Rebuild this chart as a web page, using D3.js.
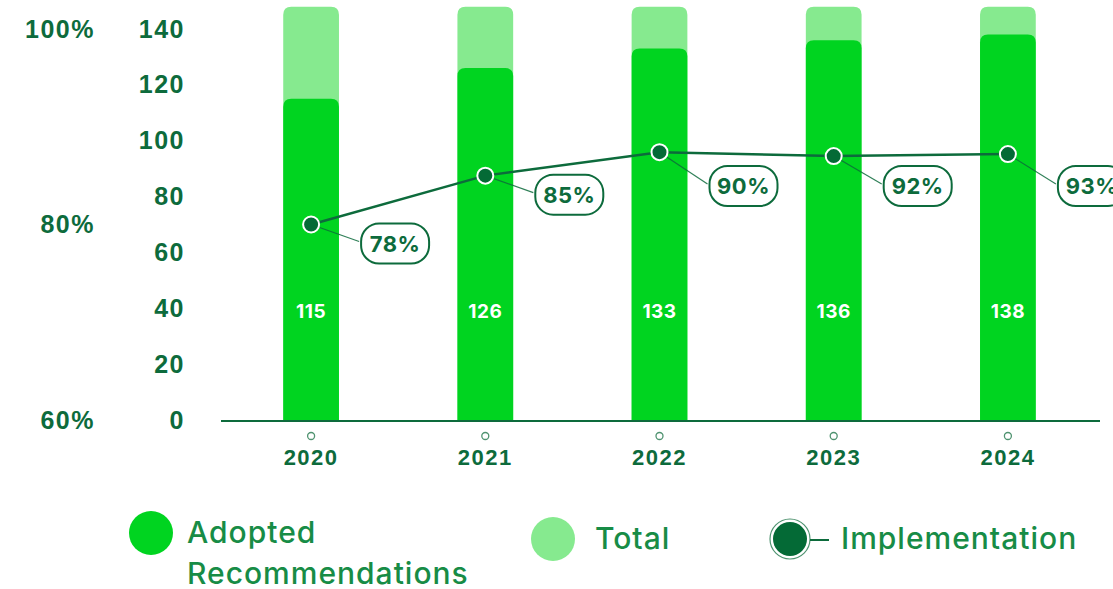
<!DOCTYPE html>
<html lang="en">
<head>
  <meta charset="UTF-8">
  <title>Recommendations chart</title>
  <script src="https://d3js.org/d3.v7.min.js"></script>
  <style>
    body { margin: 0; background: #fff; font-family: Inter, "Noto Sans", sans-serif; }
    .tick text { font-weight: 700; fill: #0d6b3c; }
  </style>
</head>
<body>
  <div id="chart"></div>

  <script>
    // data
    const years = ["2020", "2021", "2022", "2023", "2024"];
    const adopted = [115, 126, 133, 136, 138];
    const total = [148, 148, 148, 148, 148];
    const implementationPos = [80, 85, 87.4, 87, 87.2]; // where the points sit on the % axis
    const implementationLabels = ["78%", "85%", "90%", "92%", "93%"];
    const countTicks = [0, 20, 40, 60, 80, 100, 120, 140];
    const pctTicks = [60, 80, 100];

    const W = 1113, H = 589;
    const dark = "#0d6b3c";
    const bright = "#00d420";
    const light = "#86ea8f";

    const svg = d3.select("#chart").append("svg")
      .attr("width", W)
      .attr("height", H);

    const x = d3.scaleBand()
      .domain(years)
      .range([224, 1095])
      .paddingInner(0.68)
      .paddingOuter(0.34);

    const y = d3.scaleLinear().domain([0, 140]).range([420, 29]);
    const yPct = d3.scaleLinear().domain([60, 100]).range([420, 29]);

    // left axes
    const countAxis = svg.append("g")
      .attr("transform", "translate(185,0)")
      .call(d3.axisLeft(y).tickValues(countTicks).tickSize(0).tickPadding(0));
    countAxis.select(".domain").remove();
    countAxis.selectAll("text").style("font-size", "25px").style("letter-spacing", "1.5px");

    const pctAxis = svg.append("g")
      .attr("transform", "translate(95,0)")
      .call(d3.axisLeft(yPct).tickValues(pctTicks).tickSize(0).tickPadding(0)
        .tickFormat(d => d + "%"));
    pctAxis.select(".domain").remove();
    pctAxis.selectAll("text").style("font-size", "25px").style("letter-spacing", "1.5px");

    // top-rounded bar path
    function barPath(x0, w, top, bottom, r) {
      return `M${x0},${bottom} V${top + r} Q${x0},${top} ${x0 + r},${top}` +
        ` H${x0 + w - r} Q${x0 + w},${top} ${x0 + w},${top + r} V${bottom} Z`;
    }

    svg.selectAll(".total")
      .data(total)
      .enter()
      .append("path")
      .attr("class", "total")
      .attr("fill", light)
      .attr("d", (d, i) => barPath(x(years[i]), x.bandwidth(), y(d), y(0), 8));

    svg.selectAll(".adopted")
      .data(adopted)
      .enter()
      .append("path")
      .attr("class", "adopted")
      .attr("fill", bright)
      .attr("d", (d, i) => barPath(x(years[i]), x.bandwidth(), y(d), y(0), 8));

    svg.selectAll(".barLabel")
      .data(adopted)
      .enter()
      .append("text")
      .attr("x", (d, i) => x(years[i]) + x.bandwidth() / 2)
      .attr("y", 318)
      .attr("text-anchor", "middle")
      .attr("fill", "#fff")
      .style("font-size", "19px")
      .style("font-weight", 700)
      .style("letter-spacing", "0.5px")
      .text(d => d);

    // baseline + x axis
    svg.append("line")
      .attr("x1", 221).attr("x2", 1100)
      .attr("y1", y(0) + 1).attr("y2", y(0) + 1)
      .attr("stroke", dark)
      .attr("stroke-width", 2);

    const xAxis = svg.append("g")
      .attr("transform", `translate(0,${y(0)})`)
      .call(d3.axisBottom(x).tickSize(0).tickPadding(29));
    xAxis.select(".domain").remove();
    xAxis.selectAll("text").style("font-size", "22px").style("letter-spacing", "1.5px");
    xAxis.selectAll(".tick").append("circle")
      .attr("cy", 16)
      .attr("r", 3.5)
      .attr("fill", "#fff")
      .attr("stroke", "#4f9370")
      .attr("stroke-width", 1.3);

    // implementation line
    const cx = i => x(years[i]) + x.bandwidth() / 2;
    const line = d3.line()
      .x((d, i) => cx(i))
      .y(d => yPct(d));

    svg.append("path")
      .datum(implementationPos)
      .attr("fill", "none")
      .attr("stroke", dark)
      .attr("stroke-width", 2.5)
      .attr("d", line);

    svg.selectAll(".impLabel")
      .data(implementationPos)
      .enter()
      .append("g")
      .attr("class", "impLabel")
      .each(function(d, i) {
        const g = d3.select(this);
        const px = cx(i), py = yPct(d);
        const lx = px + 84;
        const ly = Math.max(py + 19, 186);

        g.append("line")
          .attr("x1", px).attr("y1", py)
          .attr("x2", lx - 36).attr("y2", ly - 2)
          .attr("stroke", dark)
          .attr("stroke-width", 1.2)
          .attr("opacity", 0.85);

        g.append("rect")
          .attr("x", lx - 34).attr("y", ly - 20)
          .attr("width", 68).attr("height", 40)
          .attr("rx", 18)
          .attr("fill", "#fff")
          .attr("stroke", dark)
          .attr("stroke-width", 2);

        g.append("text")
          .attr("x", lx).attr("y", ly + 8)
          .attr("text-anchor", "middle")
          .attr("fill", dark)
          .style("font-size", "22px")
          .style("font-weight", 700)
          .style("letter-spacing", "0.5px")
          .text(implementationLabels[i]);

        g.append("circle")
          .attr("cx", px).attr("cy", py)
          .attr("r", 8)
          .attr("fill", "#046a36")
          .attr("stroke", "#fff")
          .attr("stroke-width", 2);
      });

    // legend
    const legendText = "#178c46";
    const leg = svg.append("g")
      .style("font-size", "30px")
      .style("font-weight", 500)
      .style("letter-spacing", "1px");

    leg.append("circle").attr("cx", 151).attr("cy", 533).attr("r", 22).attr("fill", bright);
    leg.append("text").attr("x", 187).attr("y", 543).attr("fill", legendText).text("Adopted");
    leg.append("text").attr("x", 187).attr("y", 584).attr("fill", legendText).text("Recommendations");

    leg.append("circle").attr("cx", 553).attr("cy", 539).attr("r", 22).attr("fill", light);
    leg.append("text").attr("x", 595).attr("y", 549).attr("fill", legendText).text("Total");

    leg.append("circle").attr("cx", 790).attr("cy", 539).attr("r", 20)
      .attr("fill", "none").attr("stroke", "#4f9370").attr("stroke-width", 1.2);
    leg.append("circle").attr("cx", 790).attr("cy", 539).attr("r", 17).attr("fill", "#046a36");
    leg.append("line").attr("x1", 810).attr("x2", 829).attr("y1", 540).attr("y2", 540)
      .attr("stroke", dark).attr("stroke-width", 2);
    leg.append("text").attr("x", 841).attr("y", 549).attr("fill", legendText).text("Implementation");
  </script>
</body>
</html>
